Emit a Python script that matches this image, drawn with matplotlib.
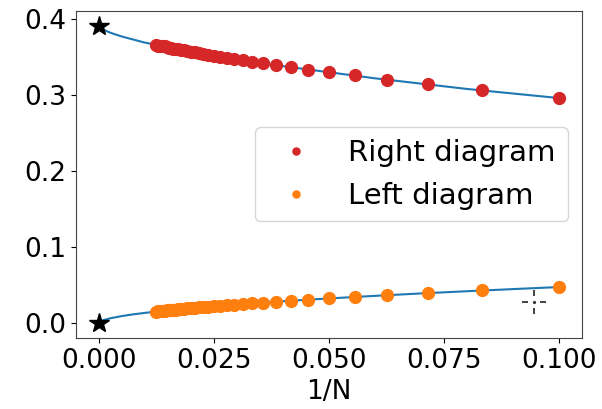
import numpy as np
import matplotlib
matplotlib.use('Agg')
import matplotlib.pyplot as plt
from matplotlib.transforms import offset_copy

# system sizes, x axis is 1/N
N = [10, 12, 14, 16, 18, 20, 22, 24, 26, 28, 30, 32, 34, 36, 38, 40, 42, 44,
     46, 48, 50, 52, 54, 56, 58, 60, 62, 64, 66, 68, 70, 72, 74, 76, 78, 80]

right_vals = [0.296, 0.306, 0.314, 0.320, 0.326, 0.330, 0.333, 0.337, 0.339,
              0.342, 0.344, 0.346, 0.347, 0.349, 0.350, 0.352, 0.353, 0.354,
              0.355, 0.356, 0.357, 0.358, 0.359, 0.359, 0.360, 0.361, 0.361,
              0.362, 0.362, 0.363, 0.364, 0.364, 0.365, 0.365, 0.365, 0.366]

left_vals = [0.0473, 0.0428, 0.0393, 0.0365, 0.0342, 0.0323, 0.0307, 0.0292,
             0.0280, 0.0268, 0.0258, 0.0249, 0.0241, 0.0234, 0.0227, 0.0221,
             0.0215, 0.0209, 0.0204, 0.0200, 0.0195, 0.0191, 0.0187, 0.0183,
             0.0180, 0.0177, 0.0173, 0.0170, 0.0168, 0.0165, 0.0162, 0.0160,
             0.0157, 0.0155, 0.0153, 0.0151]

# fitted curves
fit_x = [0.0, 0.001, 0.0025, 0.005, 0.0075, 0.01, 0.0125, 0.02, 0.03, 0.04,
         0.05, 0.06, 0.07, 0.08, 0.09, 0.1]
fit_right = [0.391, 0.386, 0.382, 0.377, 0.373, 0.369, 0.366, 0.357, 0.344,
             0.338, 0.330, 0.322, 0.315, 0.308, 0.302, 0.296]
fit_left = [0.0, 0.0038, 0.0062, 0.0091, 0.0114, 0.0133, 0.0151, 0.0195,
            0.0258, 0.0286, 0.0323, 0.0357, 0.0389, 0.0418, 0.0446, 0.0473]

# extrapolated values at 1/N = 0
star_x = [0.0, 0.0]
star_y = [0.391, 0.0]

# mouse cursor left in the screenshot
cursor_pos = (0.0946, 0.028)

x = 1.0 / np.array(N)

fig = plt.figure(figsize=(6.02, 4.09), dpi=100)
ax = fig.add_axes([0.126, 0.174, 0.841, 0.799])

ax.plot(fit_x, fit_right, color='#1f77b4', lw=1.5, zorder=1)
ax.plot(fit_x, fit_left, color='#1f77b4', lw=1.5, zorder=1)
ax.plot(x, right_vals, 'o', color='#d62728', ms=8.5, label='Right diagram', zorder=2)
ax.plot(x, left_vals, 'o', color='#ff7f0e', ms=8.5, label='Left diagram', zorder=2)
ax.plot(star_x, star_y, '*', color='black', ms=15, zorder=3)

# dashed crosshair cursor: short dashes around the centre
cx, cy = cursor_pos
for dx, dy, m in [(-6.5, 0, '_'), (6.5, 0, '_'), (0, 0, '.'),
                  (0, -6.5, '|'), (0, 6.5, '|')]:
    tr = offset_copy(ax.transData, fig=fig, x=dx, y=dy, units='points')
    ax.plot([cx], [cy], marker=m, ms=4.5 if m != '.' else 2, mew=1.3,
            color='#333333', transform=tr, zorder=4)

ax.set_xticks([0.0, 0.025, 0.05, 0.075, 0.1])
ax.set_yticks([0.0, 0.1, 0.2, 0.3, 0.4])
ax.tick_params(labelsize=19)
ax.set_xlabel('1/N', fontsize=19)
for s in ax.spines.values():
    s.set_color('#444444')

ax.legend(loc='center right', fontsize=21, markerscale=0.6)

fig.savefig('out.png', dpi=100)
